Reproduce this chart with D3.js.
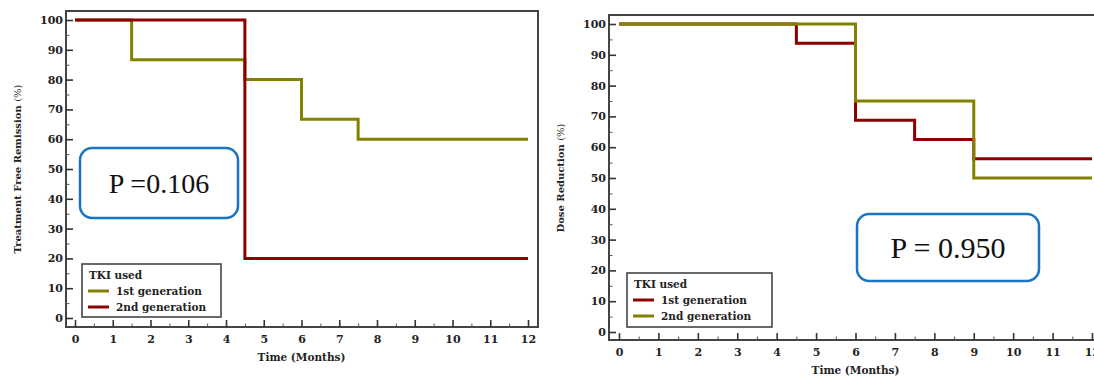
<!DOCTYPE html>
<html><head><meta charset="utf-8">
<script src="https://cdn.jsdelivr.net/npm/d3@7"></script>
<style>
html,body{margin:0;padding:0;background:#fff;}
svg{display:block;}
.tick text{font-family:"DejaVu Serif",serif;font-weight:bold;font-size:11px;fill:#222;}
</style></head>
<body>
<svg id="chart" width="1094" height="379"></svg>
<script>
// ---- data ----
const xTicks = [0,1,2,3,4,5,6,7,8,9,10,11,12];
const yTicks = [0,10,20,30,40,50,60,70,80,90,100];
const seriesNames = ["1st generation","2nd generation"];
// Left panel: Treatment Free Remission (step points: time, %)
const tfrFirstTime  = [0, 1.5, 4.5, 6, 7.5, 12];
const tfrFirstValue = [100, 86.67, 80, 66.67, 60, 60];
const tfrSecondTime  = [0, 4.5, 12];
const tfrSecondValue = [100, 20, 20];
const tfrP = "P =0.106";
// Right panel: Dose Reduction
const drFirstTime  = [0, 4.5, 6, 7.5, 9, 12];
const drFirstValue = [100, 93.75, 68.75, 62.5, 56.25, 56.25];
const drSecondTime  = [0, 6, 9, 12];
const drSecondValue = [100, 75, 50, 50];
const drP = "P = 0.950";

const OLIVE = "#828200", DARKRED = "#8b0000", BLUE = "#1a74c2";
const svg = d3.select("#chart");

function panel(o){
  const g = svg.append("g");
  const x = d3.scaleLinear().domain([0,12]).range([o.x0,o.x1]);
  const y = d3.scaleLinear().domain([0,100]).range([o.y0,o.y1]);
  // frame
  g.append("rect").attr("x",o.fl).attr("y",o.ft).attr("width",o.fr-o.fl).attr("height",o.fb-o.ft)
    .attr("fill","none").attr("stroke","#444").attr("stroke-width",2);
  // y axis major
  const ya = g.append("g").attr("transform",`translate(${o.fl},0)`)
    .call(d3.axisLeft(y).tickValues(yTicks).tickSize(-7).tickPadding(3));
  ya.select(".domain").remove();
  ya.selectAll(".tick line").attr("stroke","#333").attr("stroke-width",1.6);
  const yam = g.append("g").attr("transform",`translate(${o.fl},0)`)
    .call(d3.axisLeft(y).tickValues(yTicks.slice(0,-1).map(v=>v+5)).tickSize(-3.5).tickFormat(""));
  yam.select(".domain").remove();
  yam.selectAll(".tick line").attr("stroke","#555").attr("stroke-width",1);
  // x axis
  const xa = g.append("g").attr("transform",`translate(0,${o.fb})`)
    .call(d3.axisBottom(x).tickValues(xTicks).tickSize(-7).tickPadding(8));
  xa.select(".domain").remove();
  xa.selectAll(".tick line").attr("stroke","#333").attr("stroke-width",1.6);
  const xam = g.append("g").attr("transform",`translate(0,${o.fb})`)
    .call(d3.axisBottom(x).tickValues(xTicks.slice(0,-1).map(v=>v+0.5)).tickSize(-3.5).tickFormat(""));
  xam.select(".domain").remove();
  xam.selectAll(".tick line").attr("stroke","#555").attr("stroke-width",1);
  // axis titles
  g.append("text").attr("x",(o.x0+o.x1)/2).attr("y",o.xtY).attr("text-anchor","middle")
    .attr("font-family","DejaVu Serif").attr("font-weight","bold").attr("font-size",10.5).attr("fill","#222")
    .text("Time (Months)");
  const yt = g.append("text").attr("transform",`translate(${o.ytX},${(o.y0+o.y1)/2}) rotate(-90)`)
    .attr("text-anchor","middle").attr("font-family","DejaVu Serif").attr("font-size",10).attr("fill","#222");
  yt.append("tspan").attr("font-weight","bold").text(o.ytitle+" ");
  yt.append("tspan").text("(%)");
  // lines
  const line = d3.line().x(d=>x(d[0])).y(d=>y(d[1])).curve(d3.curveStepAfter);
  o.series.forEach(s=>{
    g.append("path").datum(d3.zip(s.t,s.v)).attr("d",line).attr("fill","none")
      .attr("stroke",s.c).attr("stroke-width",3).attr("stroke-linejoin","miter");
  });
  // legend
  const lg = g.append("g");
  lg.append("rect").attr("x",o.lx).attr("y",o.ly).attr("width",o.lw).attr("height",o.lh)
    .attr("fill","#fff").attr("stroke","#444").attr("stroke-width",1.6);
  lg.append("text").attr("x",o.lx+7).attr("y",o.ly+15).attr("font-family","DejaVu Serif").attr("font-weight","bold")
    .attr("font-size",10.5).attr("fill","#222").text("TKI used");
  o.series.forEach((s,i)=>{
    const yy = o.ly+27+i*16;
    lg.append("line").attr("x1",o.lx+6).attr("x2",o.lx+27).attr("y1",yy).attr("y2",yy).attr("stroke",s.c).attr("stroke-width",3);
    lg.append("text").attr("x",o.lx+34).attr("y",yy+4).attr("font-family","DejaVu Serif").attr("font-weight","bold")
      .attr("font-size",10.5).attr("fill","#222").text(s.name);
  });
  // P box
  g.append("rect").attr("x",o.px).attr("y",o.py).attr("width",o.pw).attr("height",o.ph).attr("rx",12)
    .attr("fill","#fff").attr("stroke",BLUE).attr("stroke-width",2.5);
  g.append("text").attr("x",o.px+o.pw/2).attr("y",o.py+o.ph/2+10).attr("text-anchor","middle")
    .attr("font-family","Liberation Serif").attr("font-size",o.pfs).attr("fill","#111").text(o.ptext);
}

panel({x0:75,x1:528,y0:318,y1:20,fl:66,fr:538,ft:11,fb:327,xtY:361,ytX:21,
  ytitle:"Treatment Free Remission",
  series:[{name:seriesNames[0],t:tfrFirstTime,v:tfrFirstValue,c:OLIVE},
          {name:seriesNames[1],t:tfrSecondTime,v:tfrSecondValue,c:DARKRED}],
  lx:82,ly:264,lw:139,lh:53,px:80,py:148,pw:158,ph:70,ptext:tfrP,pfs:28});

panel({x0:619,x1:1092,y0:332,y1:24,fl:609,fr:1100,ft:15,fb:340,xtY:374,ytX:564,
  ytitle:"Dose Reduction",
  series:[{name:seriesNames[0],t:drFirstTime,v:drFirstValue,c:DARKRED},
          {name:seriesNames[1],t:drSecondTime,v:drSecondValue,c:OLIVE}],
  lx:627,ly:273,lw:145,lh:54,px:857,py:214,pw:182,ph:67,ptext:drP,pfs:30});
</script>
</body></html>
